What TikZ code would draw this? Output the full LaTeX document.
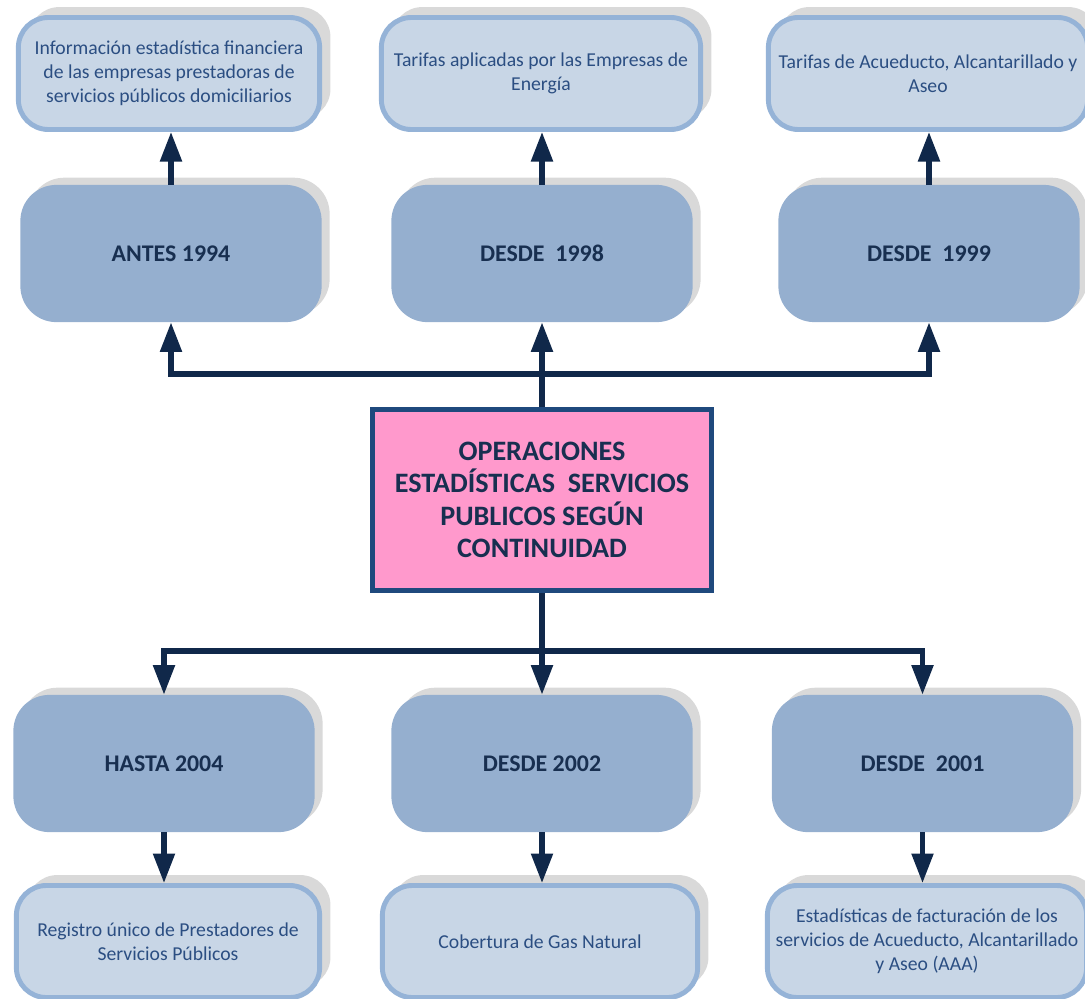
\documentclass[tikz,border=0pt]{standalone}
\usepackage{fontspec}
\setmainfont{Carlito}
\usetikzlibrary{arrows.meta,shadows}
\definecolor{shade}{HTML}{D9D9D9}
\definecolor{paleblue}{HTML}{C8D6E6}
\definecolor{rimblue}{HTML}{95B3D7}
\definecolor{midblue}{HTML}{95AFCF}
\definecolor{navy}{HTML}{10284A}
\definecolor{deepink}{HTML}{182F50}
\definecolor{inkblue}{HTML}{2B4E82}
\definecolor{pinkbox}{HTML}{FF99CC}
\definecolor{rimnavy}{HTML}{1F497D}
\begin{document}
\begin{tikzpicture}[x=0.025cm, y=-0.025cm]
    \tikzset{fact/.style={draw=rimblue, line width=3.5pt, fill=paleblue, rounded corners=0.75cm,
                minimum height=2.8cm, align=center, text=inkblue, font=\fontsize{14}{17}\selectfont,
                general shadow={fill=shade, shadow xshift=0.27cm, shadow yshift=0.26cm}},
             period/.style={fill=midblue, rounded corners=0.9cm, minimum width=7.53cm, minimum height=3.43cm,
                text=deepink, font=\fontsize{17}{20}\selectfont\bfseries,
                general shadow={fill=shade, shadow xshift=0.2cm, shadow yshift=0.18cm}},
             hub/.style={draw=rimnavy, line width=3.8pt, fill=pinkbox, minimum width=8.48cm, minimum height=4.53cm,
                align=center, text=deepink, font=\fontsize{20}{23}\selectfont\bfseries},
             link/.style={navy, line width=3.6pt, -{Triangle[width=15pt,length=21pt]}}}
    \useasboundingbox (0,0) rectangle (1085,999);
    \node[fact, minimum width=7.53cm] (info) at (169,73.5) {Información estadística financiera\\de las empresas prestadoras de\\servicios públicos domiciliarios};
    \node[fact, minimum width=7.98cm] (energia) at (541,73.5) {Tarifas aplicadas por las Empresas de\\Energía};
    \node[fact, minimum width=7.98cm] (aaa) at (928,73.5) {Tarifas de Acueducto, Alcantarillado y\\Aseo};
    \node[period] (y1994) at (171,253.5) {ANTES 1994};
    \node[period] (y1998) at (542,253.5) {DESDE~ 1998};
    \node[period] (y1999) at (929,253.5) {DESDE~ 1999};
    \node[hub] (ops) at (542,500) {OPERACIONES\\ESTADÍSTICAS~ SERVICIOS\\PUBLICOS SEGÚN\\CONTINUIDAD};
    \node[period] (y2004) at (164,763.5) {HASTA 2004};
    \node[period] (y2002) at (542,763.5) {DESDE 2002};
    \node[period] (y2001) at (922.5,763.5) {DESDE~ 2001};
    \node[fact, minimum width=7.58cm] (rups) at (168,941.5) {Registro único de Prestadores de\\Servicios Públicos};
    \node[fact, minimum width=7.88cm] (gas) at (540,941.5) {Cobertura de Gas Natural};
    \node[fact, minimum width=7.98cm] (factur) at (927,941.5) {Estadísticas de facturación de los\\servicios de Acueducto, Alcantarillado\\y Aseo (AAA)};
    \coordinate (up) at (542,374);
    \coordinate (down) at (542,651);
    \draw[link] (ops.north) -- (y1998.south);
    \draw[link] (up) -| (y1994.south);
    \draw[link] (up) -| (y1999.south);
    \draw[link] (y1994.north) -- (y1994.north |- info.south);
    \draw[link] (y1998.north) -- (y1998.north |- energia.south);
    \draw[link] (y1999.north) -- (y1999.north |- aaa.south);
    \draw[link] (ops.south) -- (y2002.north);
    \draw[link] (down) -| (y2004.north);
    \draw[link] (down) -| (y2001.north);
    \draw[link] (y2004.south) -- (y2004.south |- rups.north);
    \draw[link] (y2002.south) -- (y2002.south |- gas.north);
    \draw[link] (y2001.south) -- (y2001.south |- factur.north);
\end{tikzpicture}
\end{document}
